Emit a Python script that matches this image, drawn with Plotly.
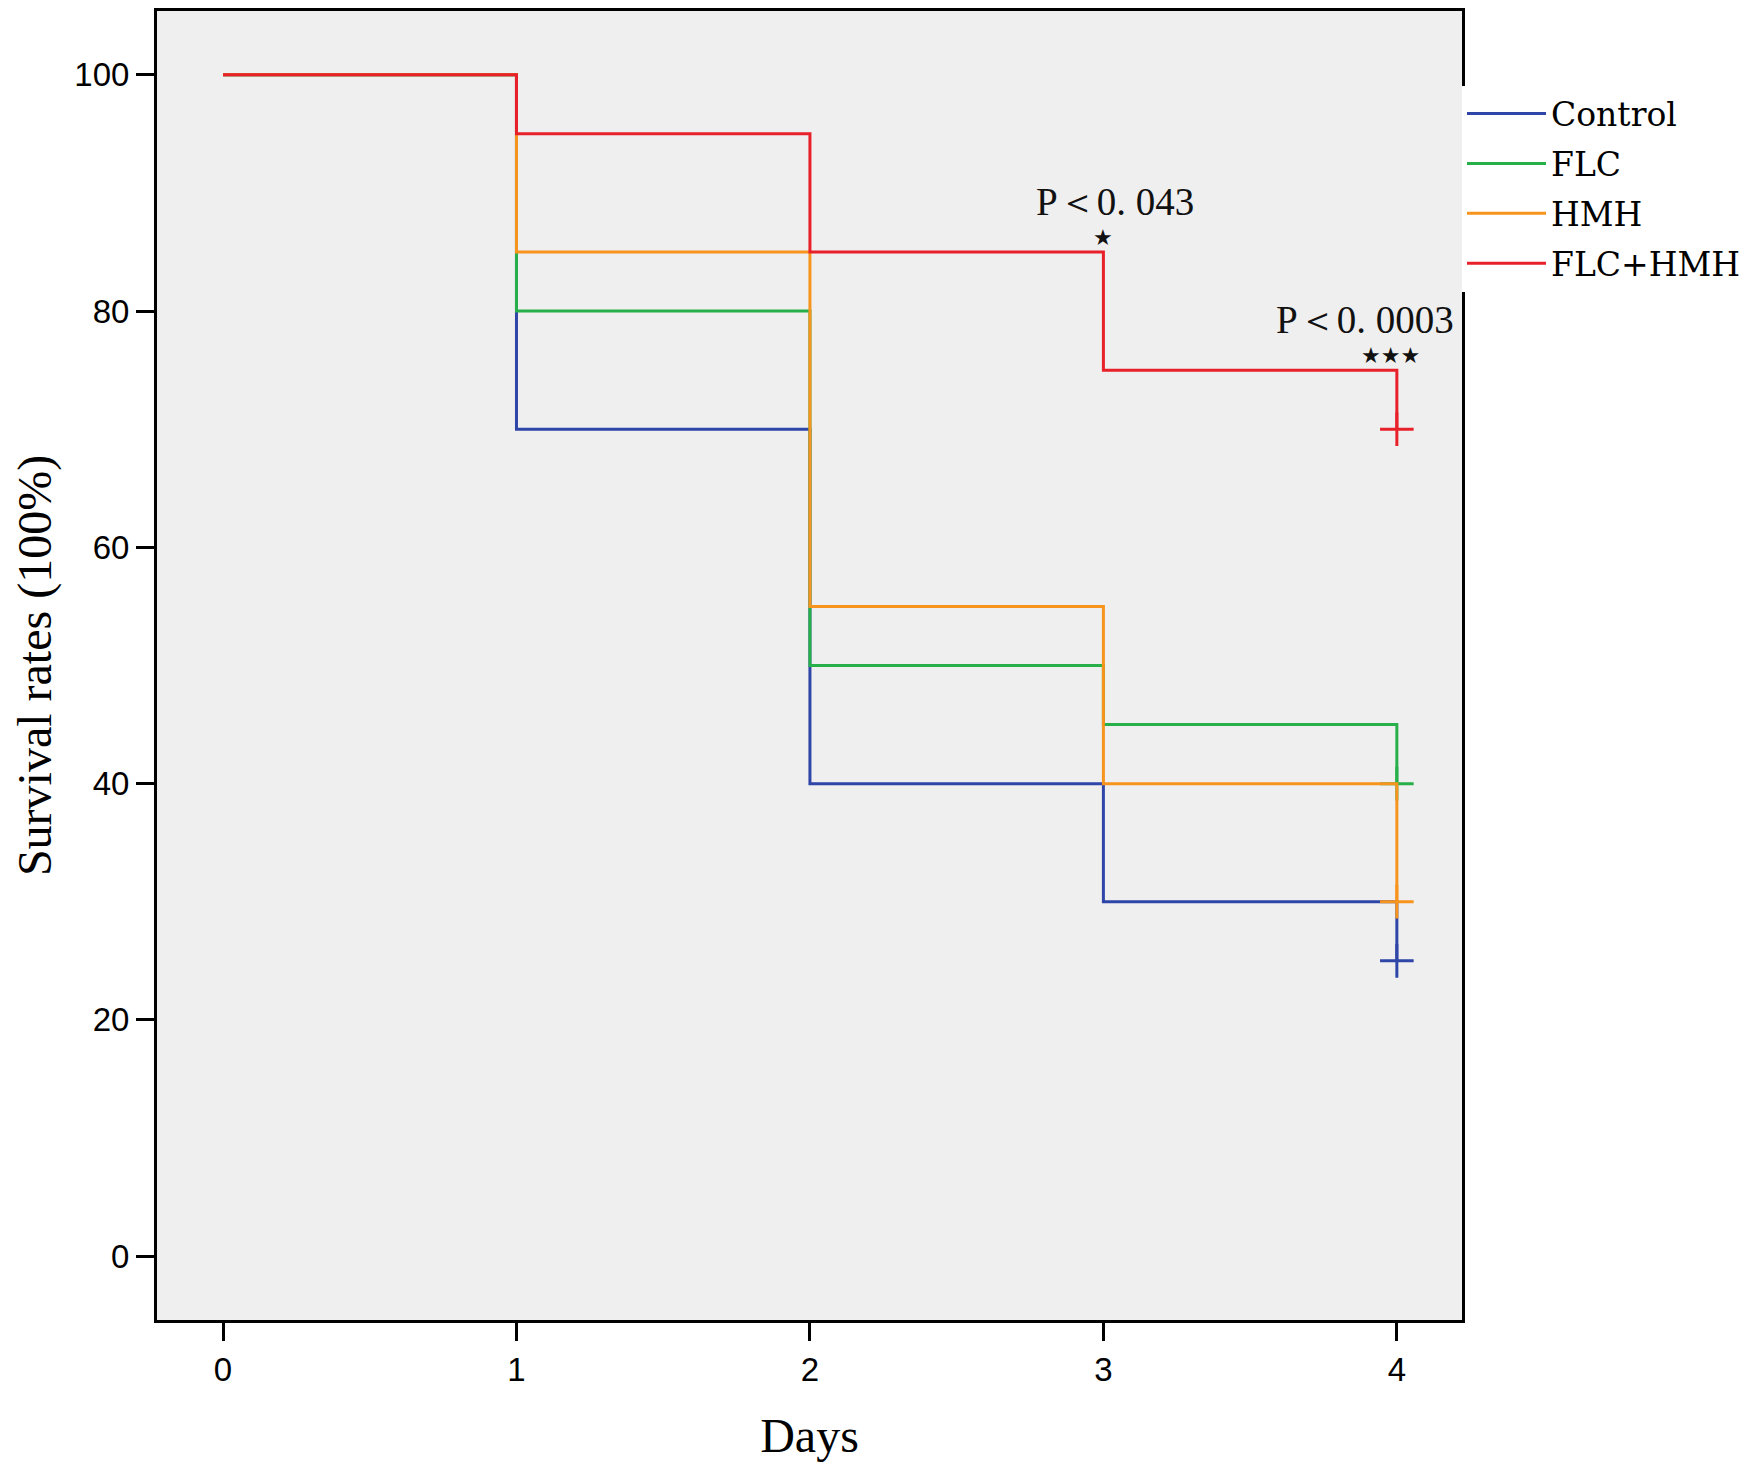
import plotly.graph_objects as go

# survival data
days = [0, 1, 2, 3, 4]
groups = ["Control", "FLC", "HMH", "FLC+HMH"]
control = [100, 70, 40, 30, 25]
flc = [100, 80, 50, 45, 40]
hmh = [100, 85, 55, 40, 30]
flc_hmh = [100, 95, 85, 75, 70]
colors = ["#2f46a8", "#27b04a", "#f7941d", "#e8202a"]

x_ticks = [0, 1, 2, 3, 4]
y_ticks = [0, 20, 40, 60, 80, 100]

fig = go.Figure()

for name, vals, col in zip(groups, [control, flc, hmh, flc_hmh], colors):
    fig.add_trace(go.Scatter(
        x=days, y=vals, name=name, mode="lines", legendgroup=name,
        line=dict(color=col, width=3, shape="hv"),
    ))
    # censored mark at the end of follow-up
    fig.add_trace(go.Scatter(
        x=[days[-1]], y=[vals[-1]], mode="markers", showlegend=False,
        legendgroup=name,
        marker=dict(symbol="cross-thin", size=24, line=dict(color=col, width=3)),
    ))

serif = "Liberation Serif, Times New Roman, serif"
stars = "DejaVu Sans, sans-serif"

fig.add_annotation(x=3.04, y=89.3, text="P＜0. 043", showarrow=False,
                   font=dict(family=serif, size=39, color="#111"))
fig.add_annotation(x=3.0, y=86.2, text="★", showarrow=False,
                   font=dict(family=stars, size=22, color="#111"))
fig.add_annotation(x=3.89, y=79.3, text="P＜0. 0003", showarrow=False,
                   font=dict(family=serif, size=39, color="#111"))
fig.add_annotation(x=3.98, y=76.2, text="★★★", showarrow=False,
                   font=dict(family=stars, size=22, color="#111"))

fig.update_layout(
    width=1750, height=1473,
    margin=dict(l=149, r=296, t=0, b=161),
    paper_bgcolor="white",
    plot_bgcolor="#efefef",
    showlegend=True,
    legend=dict(
        x=1.0, xanchor="left", y=0.943, yanchor="top",
        bgcolor="white",
        font=dict(family="DejaVu Serif, serif", size=33, color="#000"),
        itemwidth=79, tracegroupgap=4, traceorder="grouped",
    ),
    xaxis=dict(
        range=[-0.225, 4.222], tickvals=x_ticks,
        showgrid=False, zeroline=False,
        showline=True, linecolor="black", linewidth=3, mirror=True,
        ticks="outside", ticklen=18, tickwidth=3, tickcolor="black",
        tickfont=dict(family="Liberation Sans, Arial, sans-serif", size=33, color="#000"),
        title=dict(text="Days", standoff=32,
                   font=dict(family=serif, size=48, color="#000")),
    ),
    yaxis=dict(
        range=[-5.4, 105.4], tickvals=y_ticks,
        showgrid=False, zeroline=False,
        showline=True, linecolor="black", linewidth=3, mirror=True,
        ticks="outside", ticklen=18, tickwidth=3, tickcolor="black",
        tickfont=dict(family="Liberation Sans, Arial, sans-serif", size=33, color="#000"),
        title=dict(text="Survival rates (100%)", standoff=24,
                   font=dict(family=serif, size=48, color="#000")),
    ),
)

fig.write_html("out.html")
